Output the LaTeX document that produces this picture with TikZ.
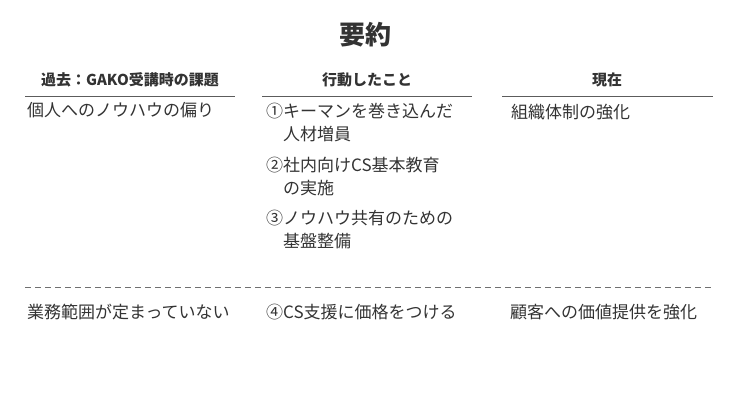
\documentclass[tikz,border=0pt]{standalone}
\usepackage{fontspec}
\setmainfont{Noto Sans CJK JP}
\usetikzlibrary{positioning}
\definecolor{txt}{HTML}{333333}
\tikzset{
  head/.style={font=\fontsize{15}{17}\selectfont\bfseries, text=txt, inner sep=0pt},
  cell/.style={font=\fontsize{17}{23}\selectfont, text=txt, anchor=north west, inner sep=0pt, align=left},
  rule/.style={draw=txt!80, line width=0.6pt}
}
\begin{document}
\begin{tikzpicture}[x=1pt, y=-1pt]
\useasboundingbox (0,0) rectangle (730,410);
% title
\node[font=\fontsize{26}{30}\selectfont\bfseries, text=txt] (title) at (365,35) {要約};
% headers
\node[head] (h1) at (130,80) {過去：GAKO受講時の課題};
\node[head] (h2) at (367,80) {行動したこと};
\node[head] (h3) at (607,80) {現在};
\draw[rule] (25,96) -- (235,96);
\draw[rule] (262,96) -- (472,96);
\draw[rule] (502,96) -- (713,96);
% upper row
\node[cell] (p1) at (27,102) {個人へのノウハウの偏り};
\node[cell] (a1) at (266,103) {①キーマンを巻き込んだ\\\hspace*{17pt}人材増員};
\node[cell] (a2) at (266,157) {②社内向けCS基本教育\\\hspace*{17pt}の実施};
\node[cell] (a3) at (266,210) {③ノウハウ共有のための\\\hspace*{17pt}基盤整備};
\node[cell] (n1) at (511,104) {組織体制の強化};
% separator
\draw[txt!70, line width=0.8pt, dash pattern=on 6pt off 4pt] (25,287) -- (713,287);
% lower row
\node[cell] (p2) at (27,304) {業務範囲が定まっていない};
\node[cell] (a4) at (266,304) {④CS支援に価格をつける};
\node[cell] (n2) at (510,304) {顧客への価値提供を強化};
\end{tikzpicture}
\end{document}
